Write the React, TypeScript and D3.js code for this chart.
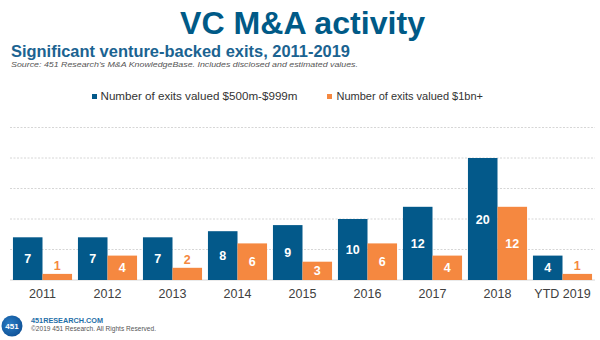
import React from "react";
import * as d3 from "d3";

const categories = ["2011", "2012", "2013", "2014", "2015", "2016", "2017", "2018", "YTD 2019"];
const seriesNames = ["Number of exits valued $500m-$999m", "Number of exits valued $1bn+"];
const exits500to999 = [7, 7, 7, 8, 9, 10, 12, 20, 4];
const exits1bnPlus = [1, 4, 2, 6, 3, 6, 4, 12, 1];
const gridTicks = [0, 5, 10, 15, 20, 25];

const BLUE = "#03598a";
const ORANGE = "#f58840";
const FONT = "'Liberation Sans', Arial, sans-serif";

export default function App() {
  const W = 600, H = 340;
  const x = d3.scaleBand<string>().domain(categories).range([10, 595]).paddingInner(0).paddingOuter(0);
  const sub = d3.scaleBand<string>().domain(["a", "b"]).range([0, x.bandwidth()]).paddingInner(0).paddingOuter(0.1);
  const y = d3.scaleLinear().domain([0, 25]).range([280, 127.5]);
  const series = [
    { key: "a", values: exits500to999, color: BLUE },
    { key: "b", values: exits1bnPlus, color: ORANGE },
  ];

  return (
    <svg width={W} height={H} viewBox={`0 0 ${W} ${H}`} style={{ position: "absolute", left: 0, top: 0, background: "#fff" }} fontFamily={FONT}>
      <rect x={0} y={0} width={W} height={H} fill="#fff" />
      <text x={180} y={34} fontSize={31} fontWeight="bold" fill="#005a87" textLength={245} lengthAdjust="spacingAndGlyphs">VC M&amp;A activity</text>
      <text x={11} y={56.5} fontSize={16.5} fontWeight="bold" fill="#1b6391" textLength={339} lengthAdjust="spacingAndGlyphs">Significant venture-backed exits, 2011-2019</text>
      <text x={11} y={67} fontSize={7.6} fontStyle="italic" fill="#555" textLength={347} lengthAdjust="spacingAndGlyphs">Source: 451 Research's M&amp;A KnowledgeBase. Includes disclosed and estimated values.</text>

      {/* legend */}
      <rect x={92} y={94} width={5} height={5} fill={BLUE} />
      <text x={100.5} y={99.5} fontSize={11} fill="#333" textLength={197} lengthAdjust="spacingAndGlyphs">{seriesNames[0]}</text>
      <rect x={327} y={94} width={5} height={5} fill={ORANGE} />
      <text x={336.5} y={99.5} fontSize={11} fill="#333">{seriesNames[1]}</text>

      {/* grid */}
      {gridTicks.map((t) => (
        <line key={t} x1={10} x2={595} y1={y(t)} y2={y(t)} stroke="#d6d6d6" strokeWidth={1} strokeDasharray={t === 0 ? undefined : "2,1.5"} />
      ))}

      {/* bars */}
      {categories.map((c, i) => (
        <g key={c} transform={`translate(${x(c)},0)`}>
          {series.map((s) => {
            const v = s.values[i];
            const bx = sub(s.key)!;
            const bw = sub.bandwidth();
            const top = y(v);
            const h = y(0) - top;
            const inside = v >= 3;
            return (
              <g key={s.key}>
                <rect x={bx} y={top} width={bw} height={h} fill={s.color} />
                <text
                  x={bx + bw / 2}
                  y={inside ? top + h / 2 : top - 8}
                  dy="0.36em"
                  textAnchor="middle"
                  fontSize={12.5}
                  fontWeight="bold"
                  fill={inside ? "#fff" : s.color}
                >
                  {v}
                </text>
              </g>
            );
          })}
          <text x={x.bandwidth() / 2} y={297.5} textAnchor="middle" fontSize={12.5} fill="#404040">{c}</text>
        </g>
      ))}

      {/* footer */}
      <defs>
        <radialGradient id="logoGrad" cx="0.4" cy="0.4" r="0.7">
          <stop offset="0%" stopColor="#2a7cc4" />
          <stop offset="100%" stopColor="#0d4f94" />
        </radialGradient>
      </defs>
      <circle cx={12} cy={326} r={10.5} fill="url(#logoGrad)" />
      <text x={12} y={328.5} textAnchor="middle" fontSize={8} fontWeight="bold" fill="#fff">451</text>
      <text x={31} y={322.5} fontSize={6.5} fontWeight="bold" fill="#1f6fa8" textLength={72} lengthAdjust="spacingAndGlyphs">451RESEARCH.COM</text>
      <text x={31} y={331} fontSize={6.3} fill="#555" textLength={125} lengthAdjust="spacingAndGlyphs">©2019 451 Research. All Rights Reserved.</text>
    </svg>
  );
}
